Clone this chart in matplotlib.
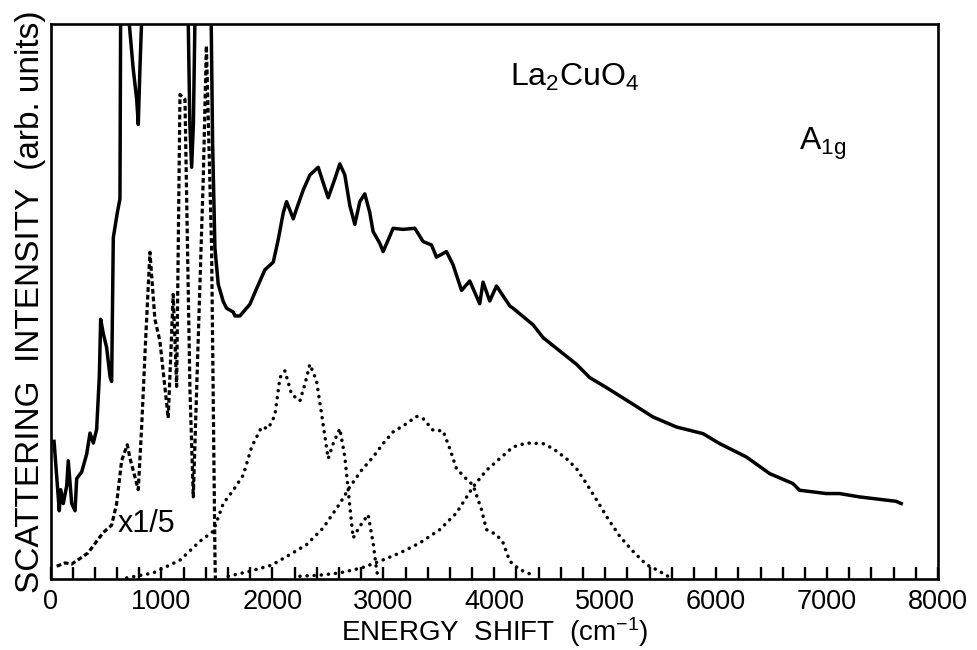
import matplotlib
matplotlib.use("Agg")
import matplotlib.pyplot as plt

# ---------------- data ----------------
# energy shift in cm^-1, intensity in arbitrary units (frame top = 100)
solid_x = [32, 79, 92, 115, 146, 160, 191, 221, 236, 281, 326, 356, 386, 416,
           440, 452, 476, 506, 536, 551, 566, 602, 626, 632, 700, 710, 745,
           777, 791, 806, 822, 1000, 1241, 1256, 1272, 1288, 1302, 1400, 1448,
           1461, 1482, 1512, 1557, 1587, 1647, 1662, 1707, 1767, 1797, 1857,
           1932, 2008, 2053, 2098, 2128, 2188, 2218, 2278, 2338, 2413, 2458,
           2503, 2563, 2608, 2653, 2698, 2743, 2788, 2833, 2878, 2908, 2968,
           2998, 3059, 3088, 3178, 3284, 3359, 3434, 3479, 3569, 3629, 3705,
           3779, 3869, 3899, 3959, 4020, 4140, 4169, 4350, 4440, 4590, 4741,
           4860, 5011, 5250, 5431, 5641, 5881, 6032, 6272, 6482, 6692, 6752,
           6993, 7112, 7291, 7623, 7668]
solid_y = [24.8, 12.3, 16.1, 13.6, 16.8, 21.3, 13.6, 12.3, 18.1, 19.3, 22.5,
           26.3, 24.5, 27.0, 36.5, 46.8, 44.2, 41.7, 36.5, 35.6, 61.5, 66.0,
           68.5, 101, 115, 100, 92, 86.4, 81.9, 92, 101, 200, 101, 82, 74.2,
           82, 101, 400, 101, 78.7, 59.6, 53.1, 50.0, 48.8, 48.1, 47.4, 47.4,
           48.8, 49.5, 52.3, 55.7, 57.1, 61.2, 66.0, 68.0, 64.9, 66.7, 70.1,
           72.8, 74.2, 71.4, 68.7, 72.1, 74.8, 72.8, 67.3, 63.9, 68.0, 69.4,
           66.0, 62.6, 60.5, 59.0, 61.8, 63.2, 63.0, 63.2, 60.8, 60.2, 58.0,
           59.0, 56.6, 52.0, 53.7, 49.6, 53.5, 50.1, 52.8, 49.2, 48.8, 45.8,
           43.5, 41.1, 38.7, 36.3, 34.5, 31.5, 29.2, 27.4, 26.2, 24.4, 22.0,
           19.0, 17.2, 16.0, 15.4, 15.4, 14.8, 14.0, 13.6]

# low-energy part scaled by 1/5 (dashed)
dashed_x = [56, 131, 191, 266, 338, 416, 476, 551, 596, 641, 692, 716, 791,
            822, 860, 896, 941, 986, 1061, 1106, 1137, 1167, 1212, 1257, 1287,
            1377, 1405, 1452, 1482, 1486]
dashed_y = [2.3, 2.9, 2.7, 3.7, 4.7, 6.8, 8.4, 9.7, 13.6, 21.3, 24.2, 21.8,
            16.1, 27.6, 44.2, 58.9, 46.8, 42.9, 29.0, 51.3, 34.7, 87.3, 86.4,
            34.0, 14.8, 72.3, 96.1, 59.6, 4.6, 0.0]

# three dotted components
comp1_x = [686, 926, 1167, 1347, 1467, 1557, 1647, 1737, 1813, 1903, 1962,
           2023, 2068, 2113, 2173, 2248, 2293, 2338, 2398, 2443, 2503, 2548,
           2608, 2653, 2698, 2728, 2788, 2863, 2908, 2939, 2953]
comp1_y = [0.2, 1.1, 3.4, 6.8, 8.6, 13.6, 16.0, 18.7, 23.8, 27.4, 27.1, 29.5,
           36.3, 37.5, 33.3, 32.1, 35.1, 38.7, 35.7, 29.8, 21.7, 24.4, 27.1,
           22.0, 13.1, 7.4, 9.5, 11.6, 6.5, 1.7, 0.2]

comp2_x = [1602, 1797, 1993, 2158, 2308, 2458, 2608, 2698, 2804, 2908, 2998,
           3088, 3209, 3299, 3359, 3449, 3539, 3599, 3659, 3750, 3809, 3885,
           3930, 4020, 4080, 4140, 4230, 4335]
comp2_y = [0.5, 1.4, 2.5, 4.4, 6.2, 9.2, 13.6, 16.6, 19.6, 22.0, 24.4, 26.5,
           28.0, 29.3, 28.9, 26.8, 26.7, 23.5, 19.9, 18.0, 16.9, 12.5, 8.9,
           8.0, 6.5, 3.2, 1.7, 0.8]

comp3_x = [2248, 2428, 2608, 2804, 2968, 3149, 3329, 3509, 3659, 3809, 3930,
           4050, 4169, 4290, 4440, 4530, 4650, 4741, 4831, 4921, 5011, 5131,
           5250, 5371, 5461, 5566]
comp3_y = [0.5, 0.7, 1.1, 2.0, 3.2, 4.7, 6.5, 8.9, 11.9, 16.6, 19.6, 21.7,
           23.8, 24.5, 24.4, 23.5, 21.7, 19.9, 17.2, 14.3, 11.3, 7.7, 5.0,
           2.6, 1.7, 0.5]

major_ticks = [0, 1000, 2000, 3000, 4000, 5000, 6000, 7000, 8000]
tick_labels = ["0", "1000", "2000", "3000", "4000", "5000", "6000", "7000", "8000"]
minor_ticks = list(range(200, 8000, 200))

# ---------------- figure ----------------
plt.rcParams['font.family'] = ['Liberation Sans', 'DejaVu Sans']
plt.rcParams['mathtext.fontset'] = 'custom'
plt.rcParams['mathtext.rm'] = 'Liberation Sans'
plt.rcParams['mathtext.it'] = 'Liberation Sans:italic'
plt.rcParams['mathtext.bf'] = 'Liberation Sans:bold'

fig = plt.figure(figsize=(9.77, 6.5), dpi=100)
ax = fig.add_axes([0.0517, 0.1092, 0.9084, 0.8538])

ax.plot(solid_x, solid_y, color='black', lw=2.5, solid_joinstyle='round')
ax.plot(dashed_x, dashed_y, color='black', lw=2.3, linestyle=(0, (1.5, 0.9)))
for cx, cy in [(comp1_x, comp1_y), (comp2_x, comp2_y), (comp3_x, comp3_y)]:
    ax.plot(cx, cy, color='black', lw=2.5, linestyle=(0, (0.05, 2.0)),
            dash_capstyle='round')

ax.set_xlim(0, 8000)
ax.set_ylim(0, 100)
ax.set_xticks(major_ticks)
ax.set_xticklabels(tick_labels)
ax.set_xticks(minor_ticks, minor=True)
ax.tick_params(axis='x', which='both', direction='in', length=8.6, width=1.7,
               top=False, pad=7, labelsize=19.5)
ax.tick_params(axis='y', which='both', left=False, right=False, labelleft=False)
for s in ax.spines.values():
    s.set_linewidth(1.9)

ax.set_xlabel('ENERGY  SHIFT  (cm$^{-1}$)', fontsize=20, labelpad=0)
ax.set_ylabel('SCATTERING  INTENSITY  (arb. units)', fontsize=24, labelpad=3)

ax.text(4140, 88.9, 'La$_2$CuO$_4$', fontsize=23, ha='left', va='baseline')
ax.text(6743, 77.3, r'A$_{\mathrm{1g}}$', fontsize=23, ha='left', va='baseline')
ax.text(608, 8.4, 'x1/5', fontsize=22, ha='left', va='baseline')

fig.savefig('out.png', dpi=100)
